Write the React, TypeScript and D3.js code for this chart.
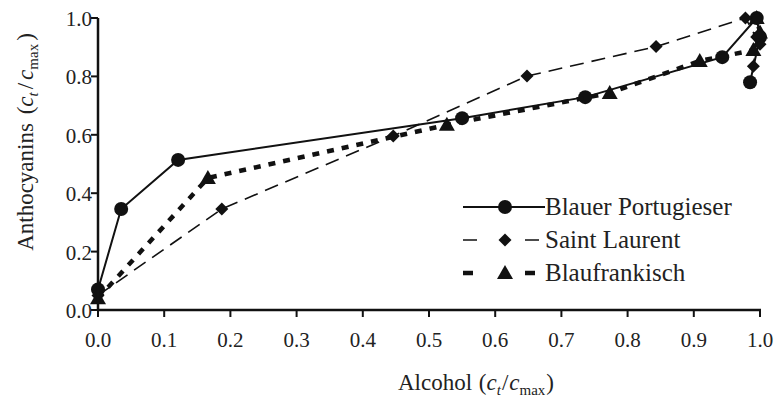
import React from "react";
import * as d3 from "d3";

const xTicks = [0, 0.1, 0.2, 0.3, 0.4, 0.5, 0.6, 0.7, 0.8, 0.9, 1.0];
const yTicks = [0, 0.2, 0.4, 0.6, 0.8, 1.0];

const bpX = [0, 0.035, 0.121, 0.55, 0.736, 0.943, 0.995, 1.0, 0.985];
const bpY = [0.07, 0.346, 0.514, 0.657, 0.729, 0.866, 1.0, 0.935, 0.78];

const slX = [0, 0.187, 0.446, 0.648, 0.843, 0.978, 1.0, 0.995, 0.99];
const slY = [0.05, 0.346, 0.596, 0.801, 0.902, 1.0, 0.91, 0.935, 0.835];

const bfX = [0, 0.166, 0.527, 0.773, 0.909, 0.99, 0.995, 1.0];
const bfY = [0.04, 0.452, 0.634, 0.743, 0.853, 0.89, 1.0, 0.95];

const seriesNames = ["Blauer Portugieser", "Saint Laurent", "Blaufrankisch"];

const W = 775;
const H = 398;
const left = 98, right = 760, top = 18, bottom = 310;

const FONT = "'Liberation Serif'";
const TXT = "#222";

function Marker({ kind, x, y }: { kind: string; x: number; y: number }) {
  if (kind === "circle") return <circle cx={x} cy={y} r={7} fill="#111" />;
  if (kind === "diamond") {
    const s = 6.5;
    return <path d={`M${x},${y - s}L${x + s},${y}L${x},${y + s}L${x - s},${y}Z`} fill="#111" />;
  }
  const s = 8;
  return <path d={`M${x},${y - s}L${x + s},${y + s * 0.75}L${x - s},${y + s * 0.75}Z`} fill="#111" />;
}

function Ratio({ gap }: { gap: number }) {
  return (
    <>
      <tspan dx={gap}>(</tspan>
      <tspan fontStyle="italic">c</tspan>
      <tspan fontStyle="italic" fontSize={15} dy={5}>t</tspan>
      <tspan dy={-5} dx={gap}>/</tspan>
      <tspan fontStyle="italic" dx={gap}>c</tspan>
      <tspan fontSize={15} dy={5}>max</tspan>
      <tspan dy={-5} dx={gap}>)</tspan>
    </>
  );
}

export default function App() {
  const x = d3.scaleLinear().domain([0, 1]).range([left, right]);
  const y = d3.scaleLinear().domain([0, 1]).range([bottom, top]);
  const line = d3.line<[number, number]>().x((d) => x(d[0])).y((d) => y(d[1]));

  const series = [
    { xs: bpX, ys: bpY, kind: "circle", dash: "none", width: 2, legDash: "none" },
    { xs: slX, ys: slY, kind: "diamond", dash: "14 8", width: 1.6, legDash: "14 48" },
    { xs: bfX, ys: bfY, kind: "triangle", dash: "7 8", width: 4.5, legDash: "10 52" },
  ];

  const legendRows = [207, 240, 273];

  return (
    <svg width={W} height={H} style={{ position: "absolute", left: 0, top: 0 }}>
      <rect width={W} height={H} fill="#fff" />
      {series.map((s, i) => {
        const pts = s.xs.map((v, j) => [v, s.ys[j]] as [number, number]);
        return (
          <g key={i}>
            <path d={line(pts) || ""} fill="none" stroke="#111" strokeWidth={s.width} strokeDasharray={s.dash} />
            {pts.map((p, j) => (
              <Marker key={j} kind={s.kind} x={x(p[0])} y={y(p[1])} />
            ))}
          </g>
        );
      })}
      <line x1={left} x2={left} y1={top} y2={bottom + 1} stroke="#111" strokeWidth={2.5} />
      <line x1={left - 1} x2={right + 1} y1={bottom} y2={bottom} stroke="#111" strokeWidth={2.5} />
      {xTicks.map((t, i) => (
        <g key={i}>
          <line x1={x(t)} x2={x(t)} y1={bottom} y2={bottom + 7} stroke="#111" strokeWidth={2} />
          <text x={x(t)} y={bottom + 37} textAnchor="middle" fontSize={21} fill={TXT} style={{ fontFamily: FONT }}>
            {d3.format(".1f")(t)}
          </text>
        </g>
      ))}
      {yTicks.map((t, i) => (
        <g key={i}>
          <line x1={left - 7} x2={left} y1={y(t)} y2={y(t)} stroke="#111" strokeWidth={2} />
          <text x={left - 6} y={y(t) + 8} textAnchor="end" fontSize={21} fill={TXT} style={{ fontFamily: FONT }}>
            {d3.format(".1f")(t)}
          </text>
        </g>
      ))}
      <text x={476} y={390} textAnchor="middle" fontSize={23} fill={TXT} style={{ fontFamily: FONT }}>
        Alcohol <Ratio gap={1} />
      </text>
      <text transform={`translate(33,142) rotate(-90)`} textAnchor="middle" fontSize={23} fill={TXT} style={{ fontFamily: FONT }}>
        Anthocyanins <Ratio gap={3} />
      </text>
      {series.map((s, i) => (
        <g key={i}>
          <line x1={463} x2={545} y1={legendRows[i]} y2={legendRows[i]} stroke="#111" strokeWidth={s.width}
            strokeDasharray={s.legDash} />
          <Marker kind={s.kind} x={505} y={legendRows[i]} />
          <text x={545} y={legendRows[i] + 8} fontSize={25} fill={TXT} style={{ fontFamily: FONT }}>{seriesNames[i]}</text>
        </g>
      ))}
    </svg>
  );
}
